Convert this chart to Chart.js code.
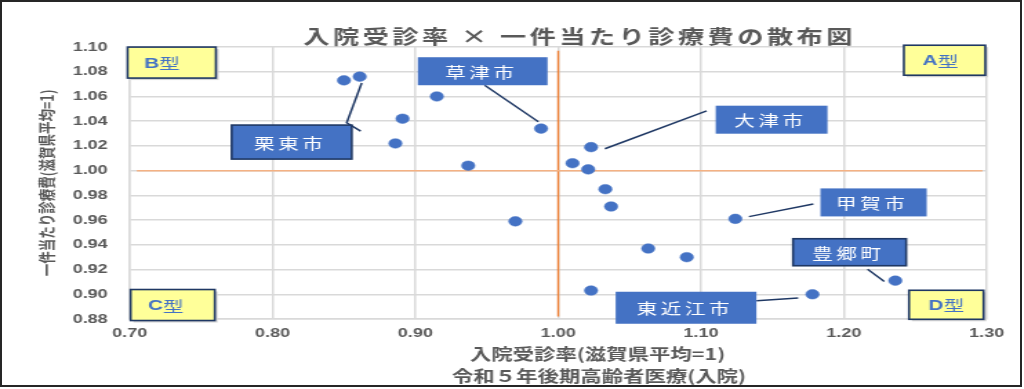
<!DOCTYPE html>
<html>
<head>
<meta charset="utf-8">
<script src="https://cdn.jsdelivr.net/npm/chart.js"></script>
<style>
body{margin:0;background:#fff;}
#wrap{position:absolute;left:0;top:0;width:742px;height:389px;transform:scaleX(1.38);transform-origin:0 0;}
#frame{position:absolute;left:0;top:0;width:1018px;height:383px;border:2px solid #262626;pointer-events:none;}
</style>
</head>
<body>
<div id="wrap"><canvas id="scatter"></canvas></div>
<div id="frame"></div>
<script>
// 19市町: 入院受診率(x) と 一件当たり診療費(y)
var admissionRate = [0.850, 0.861, 0.915, 0.891, 0.886, 0.937, 0.988, 1.023, 1.010, 1.021,
                     1.033, 1.037, 0.970, 1.124, 1.063, 1.090, 1.236, 1.023, 1.178];
var costPerCase   = [1.073, 1.076, 1.060, 1.042, 1.022, 1.004, 1.034, 1.019, 1.006, 1.001,
                     0.985, 0.971, 0.959, 0.961, 0.937, 0.930, 0.911, 0.903, 0.900];
var xTickRange = [0.70, 1.30, 0.10];
var yTickRange = [0.88, 1.10, 0.02];
var averageLevel = 1.00;
var avgHLineX = [0.705, 1.297];
var avgVLineY = [1.097, 0.882];

var chartTitle = '入院受診率 × 一件当たり診療費の散布図';
var xTitleLines = ['入院受診率(滋賀県平均=1)', '令和５年後期高齢者医療(入院)'];
var yTitle = '一件当たり診療費(滋賀県平均=1)';

// 吹き出し (軸の値で位置指定)
var callouts = [
    {name: '栗東市', at: [0.8134, 1.0231], w: 87, h: 34, border: true,
     leader: [[0.8624, 1.0709], [0.8519, 1.0387], [0.8617, 1.0320]]},
    {name: '草津市', at: [0.9471, 1.0804], w: 94, h: 28, border: false,
     leader: [[0.9485, 1.0691], [0.9861, 1.0395]]},
    {name: '大津市', at: [1.1494, 1.0412], w: 81, h: 28, border: false,
     leader: [[1.0327, 1.0177], [1.1039, 1.0483]]},
    {name: '甲賀市', at: [1.2208, 0.9743], w: 77, h: 28, border: false,
     leader: [[1.1335, 0.9628], [1.1786, 0.9730]]},
    {name: '豊郷町', at: [1.2040, 0.9340], w: 82, h: 27, border: true,
     leader: [[1.2166, 0.9203], [1.2283, 0.9103]]},
    {name: '東近江市', at: [1.0895, 0.8891], w: 102, h: 32, border: false,
     leader: [[1.1389, 0.8948], [1.1680, 0.8969]]}
];
var quadrants = [
    {name: 'A', at: [1.2705, 1.0893], w: 59, h: 30, dx: -3},
    {name: 'B', at: [0.7294, 1.0874], w: 64, h: 31, dx: -7},
    {name: 'C', at: [0.7301, 0.8913], w: 61, h: 31, dx: -5},
    {name: 'D', at: [1.2717, 0.8915], w: 54, h: 29, dx: 0}
];

var points = admissionRate.map(function (v, i) { return {x: v, y: costPerCase[i]}; });

var GRAY = '#595959';
var CJK = '"Noto Sans CJK JP", sans-serif';

var annotationPlugin = {
    id: 'annotations',
    afterDraw: function (chart) {
        var ctx = chart.ctx;
        var xs = chart.scales.x, ys = chart.scales.y;
        ctx.save();

        // タイトル
        ctx.fillStyle = GRAY;
        ctx.font = 'bold 19px ' + CJK;
        ctx.letterSpacing = '2.5px';
        ctx.textAlign = 'center';
        ctx.textBaseline = 'middle';
        ctx.fillText(chartTitle, 420, 37);

        // x軸タイトル
        ctx.letterSpacing = '0px';
        ctx.font = 'bold 15.5px ' + CJK;
        ctx.fillText(xTitleLines[0], 433, 354);
        ctx.fillText(xTitleLines[1], 434, 376);

        // 引き出し線
        ctx.strokeStyle = '#1F3864';
        ctx.lineWidth = 1.5;
        callouts.forEach(function (c) {
            ctx.beginPath();
            c.leader.forEach(function (p, i) {
                var px = xs.getPixelForValue(p[0]), py = ys.getPixelForValue(p[1]);
                if (i === 0) ctx.moveTo(px, py); else ctx.lineTo(px, py);
            });
            ctx.stroke();
        });

        // 市町ラベル
        callouts.forEach(function (c) {
            var cx = xs.getPixelForValue(c.at[0]), cy = ys.getPixelForValue(c.at[1]);
            ctx.fillStyle = '#4472C4';
            ctx.fillRect(cx - c.w / 2, cy - c.h / 2, c.w, c.h);
            if (c.border) {
                ctx.strokeStyle = '#1F3864';
                ctx.lineWidth = 1.6;
                ctx.strokeRect(cx - c.w / 2, cy - c.h / 2, c.w, c.h);
            }
            ctx.fillStyle = '#ffffff';
            ctx.font = '15px ' + CJK;
            ctx.letterSpacing = '2.5px';
            ctx.fillText(c.name, cx - 1, cy + 1);
            ctx.letterSpacing = '0px';
        });

        // 型ラベル
        quadrants.forEach(function (q) {
            var cx = xs.getPixelForValue(q.at[0]), cy = ys.getPixelForValue(q.at[1]);
            ctx.fillStyle = '#d4d4d4';
            ctx.fillRect(cx - q.w / 2 + 2, cy - q.h / 2 + 2, q.w, q.h);
            ctx.fillStyle = '#FFFF99';
            ctx.fillRect(cx - q.w / 2, cy - q.h / 2, q.w, q.h);
            ctx.strokeStyle = '#1F3864';
            ctx.lineWidth = 1.6;
            ctx.strokeRect(cx - q.w / 2, cy - q.h / 2, q.w, q.h);
            ctx.fillStyle = '#4472C4';
            ctx.font = 'bold 15px "Liberation Sans", Arial, sans-serif';
            var w1 = ctx.measureText(q.name).width;
            ctx.font = '15px ' + CJK;
            var w2 = ctx.measureText('型').width;
            var tx = cx + q.dx - (w1 + w2) / 2;
            ctx.textAlign = 'left';
            ctx.font = 'bold 15px "Liberation Sans", Arial, sans-serif';
            ctx.fillText(q.name, tx, cy + 1);
            ctx.font = '15px ' + CJK;
            ctx.fillText('型', tx + w1, cy + 1);
            ctx.textAlign = 'center';
        });

        ctx.restore();
    }
};

var tickFont = {family: '"Liberation Sans", Arial, sans-serif', size: 13, weight: 'bold'};

new Chart(document.getElementById('scatter'), {
    type: 'scatter',
    data: {
        datasets: [
            {
                data: points,
                backgroundColor: '#4472C4',
                borderColor: '#4472C4',
                borderWidth: 0.5,
                pointRadius: 4.8,
                order: 0
            },
            {
                data: avgHLineX.map(function (v) { return {x: v, y: averageLevel}; }),
                showLine: true,
                borderColor: '#F4B183',
                borderWidth: 1.5,
                pointRadius: 0,
                order: 1
            },
            {
                data: avgVLineY.map(function (v) { return {x: averageLevel, y: v}; }),
                showLine: true,
                borderColor: '#ED7D31',
                borderWidth: 1.4,
                pointRadius: 0,
                order: 1
            }
        ]
    },
    options: {
        responsive: true,
        maintainAspectRatio: false,
        animation: false,
        layout: {padding: {left: 0, right: 27, top: 47, bottom: 0}},
        plugins: {legend: {display: false}, tooltip: {enabled: false}},
        scales: {
            x: {
                type: 'linear',
                min: xTickRange[0], max: xTickRange[1],
                ticks: {stepSize: xTickRange[2], font: tickFont, color: GRAY, padding: 7,
                        callback: function (v) { return v.toFixed(2); }},
                grid: {color: '#d9d9d9', lineWidth: 1.5, drawTicks: false},
                border: {color: '#d9d9d9', width: 1.5},
                afterFit: function (s) { s.height = 70; }
            },
            y: {
                type: 'linear',
                min: yTickRange[0], max: yTickRange[1],
                ticks: {stepSize: yTickRange[2], font: tickFont, color: GRAY, padding: 16,
                        callback: function (v) { return v.toFixed(2); }},
                grid: {color: '#d9d9d9', lineWidth: 1.5, drawTicks: false},
                border: {color: '#d9d9d9', width: 1.5},
                title: {display: true, text: yTitle, color: GRAY,
                        font: {family: CJK, size: 12.5, weight: 'bold'},
                        padding: {top: 27, bottom: 0}},
                afterFit: function (s) { s.width = 94; }
            }
        }
    },
    plugins: [annotationPlugin]
});
</script>
</body>
</html>
